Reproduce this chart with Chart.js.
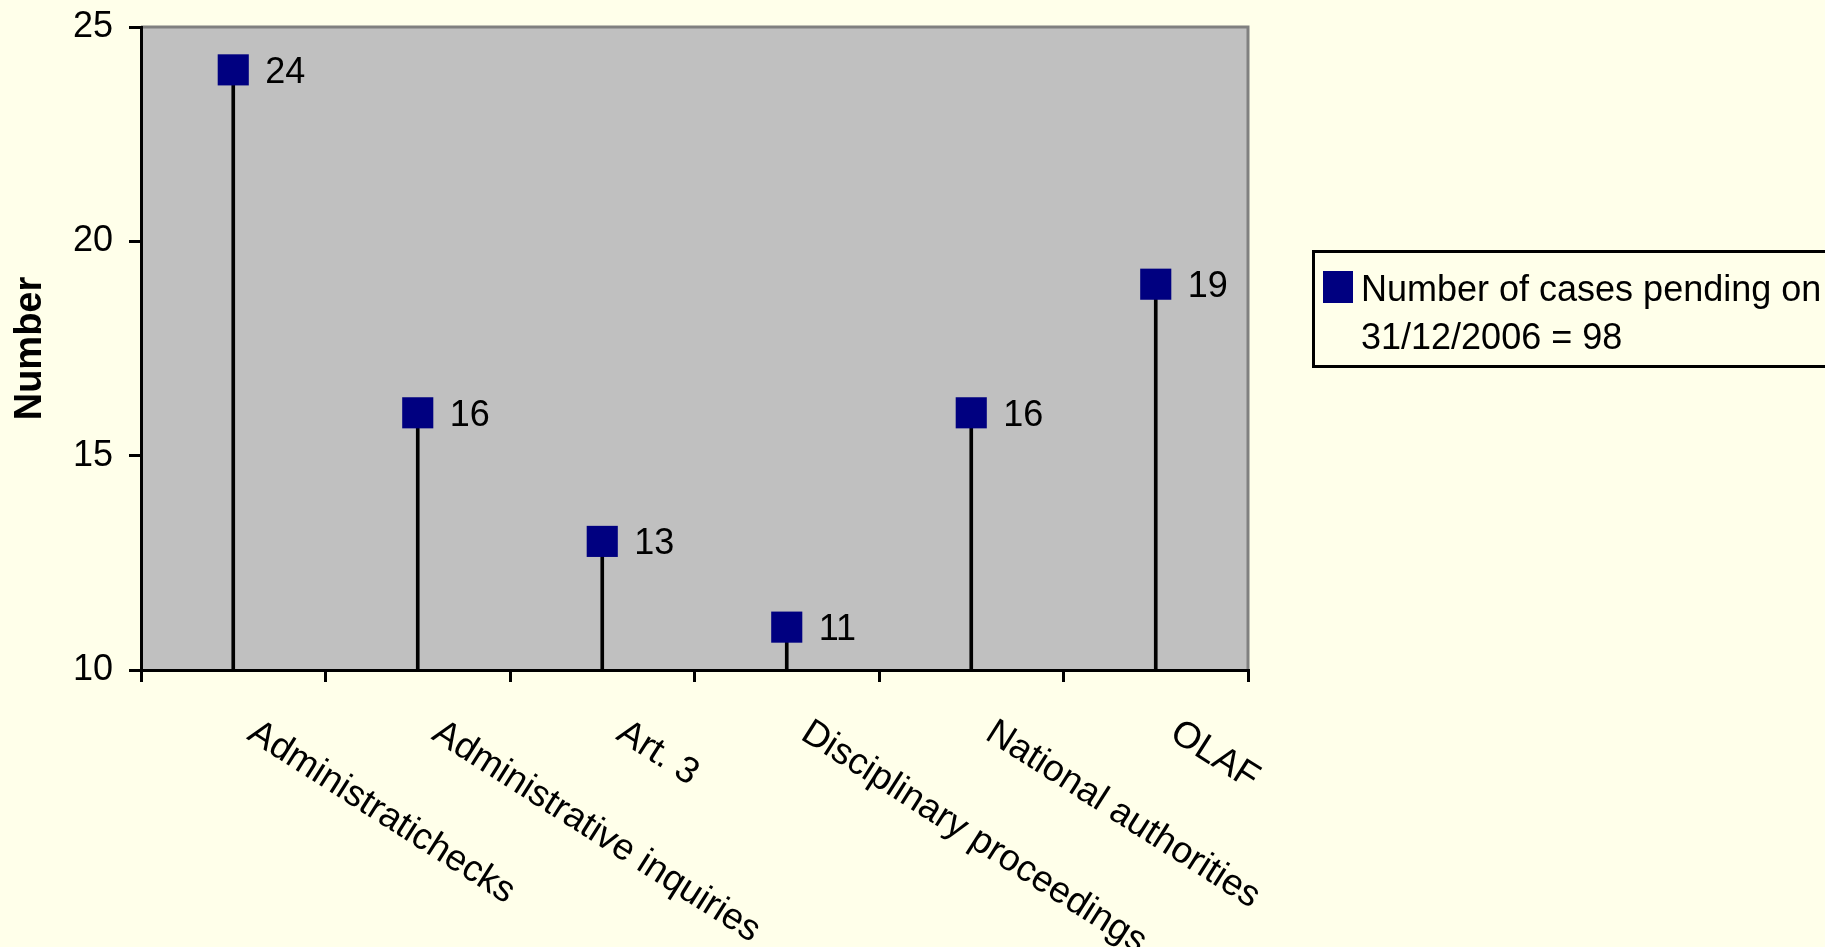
<!DOCTYPE html>
<html>
<head>
<meta charset="utf-8">
<script src="https://cdn.jsdelivr.net/npm/chart.js@4.4.0/dist/chart.umd.min.js"></script>
<style>
  html, body { margin: 0; padding: 0; background: #FFFFEA; }
  canvas { display: block; }
</style>
</head>
<body>
<canvas id="chart" width="1825" height="947"></canvas>
<script>
// Cases pending by category
const categories = [
  'Administratichecks',
  'Administrative inquiries',
  'Art. 3',
  'Disciplinary proceedings',
  'National authorities',
  'OLAF'
];
const pendingCases = [24, 16, 13, 11, 16, 19];
const yTickValues = [10, 15, 20, 25];
const seriesLabel = ['Number of cases pending on', '31/12/2006 = 98'];
const yAxisTitle = 'Number';

const FONT = '"Liberation Sans", Arial, sans-serif';
const PAGE_BG = '#FFFFEA';
const PLOT_BG = '#C0C0C0';
const MARKER = '#000080';

const frame = {
  id: 'frame',
  beforeDraw(chart) {
    const { ctx, chartArea: a } = chart;
    ctx.save();
    ctx.fillStyle = PAGE_BG;
    ctx.fillRect(0, 0, chart.width, chart.height);
    ctx.fillStyle = PLOT_BG;
    ctx.fillRect(a.left, a.top, a.right - a.left, a.bottom - a.top);
    // grey top and right edges of the plot area
    ctx.strokeStyle = '#808080';
    ctx.lineWidth = 3;
    ctx.beginPath();
    ctx.moveTo(a.left, a.top);
    ctx.lineTo(a.right, a.top);
    ctx.lineTo(a.right, a.bottom);
    ctx.stroke();
    ctx.restore();
  },
  afterDraw(chart) {
    const { ctx } = chart;
    const xScale = chart.scales.x;
    ctx.save();

    // value labels beside the markers
    const meta = chart.getDatasetMeta(1);
    ctx.fillStyle = '#000';
    ctx.font = '36px ' + FONT;
    ctx.textAlign = 'left';
    ctx.textBaseline = 'alphabetic';
    meta.data.forEach((pt, i) => {
      ctx.fillText(String(pendingCases[i]), pt.x + 32, pt.y + 13);
    });

    // slanted category labels
    const angle = 32.5 * Math.PI / 180;
    ctx.font = '37px ' + FONT;
    ctx.textBaseline = 'top';
    categories.forEach((c, i) => {
      const x = xScale.getPixelForValue(i) + 28;
      const y = xScale.top + 44;
      ctx.save();
      ctx.translate(x, y);
      ctx.rotate(angle);
      ctx.fillText(c, 0, 0);
      ctx.restore();
    });

    // legend box
    ctx.font = '36px ' + FONT;
    ctx.fillStyle = PAGE_BG;
    ctx.fillRect(1313, 251, 600, 115);
    ctx.strokeStyle = '#000';
    ctx.lineWidth = 3;
    ctx.strokeRect(1313.5, 251.5, 600, 115);
    ctx.fillStyle = MARKER;
    ctx.fillRect(1323, 271, 30, 32);
    ctx.fillStyle = '#000';
    ctx.textBaseline = 'alphabetic';
    ctx.fillText(seriesLabel[0], 1361, 301);
    ctx.fillText(seriesLabel[1], 1361, 349);

    ctx.restore();
  }
};

new Chart(document.getElementById('chart'), {
  type: 'bar',
  data: {
    labels: categories,
    datasets: [
      {
        label: 'stems',
        data: pendingCases,
        backgroundColor: '#000',
        barThickness: 3,
        order: 1
      },
      {
        type: 'line',
        label: seriesLabel.join(' '),
        data: pendingCases,
        showLine: false,
        pointStyle: 'rect',
        pointRadius: 22,
        pointHoverRadius: 22,
        pointBackgroundColor: MARKER,
        pointBorderWidth: 0,
        borderColor: MARKER,
        order: 0
      }
    ]
  },
  options: {
    responsive: false,
    animation: false,
    events: [],
    layout: { padding: { top: 27, right: 577, bottom: 0, left: 0 } },
    plugins: {
      legend: { display: false },
      tooltip: { enabled: false }
    },
    scales: {
      x: {
        type: 'category',
        offset: true,
        grid: {
          offset: true,
          drawOnChartArea: false,
          drawTicks: true,
          tickLength: 12,
          color: '#000',
          lineWidth: 3
        },
        border: { color: '#000', width: 3 },
        ticks: { display: false },
        afterFit(scale) { scale.height = 277; }
      },
      y: {
        type: 'linear',
        min: yTickValues[0],
        max: yTickValues[yTickValues.length - 1],
        afterBuildTicks(scale) {
          scale.ticks = yTickValues.map(v => ({ value: v }));
        },
        ticks: {
          color: '#000',
          padding: 16,
          font: { family: FONT, size: 36 }
        },
        grid: {
          drawOnChartArea: false,
          drawTicks: true,
          tickLength: 12,
          color: '#000',
          lineWidth: 3
        },
        border: { color: '#000', width: 3 },
        title: {
          display: true,
          text: yAxisTitle,
          color: '#000',
          font: { family: FONT, size: 38, weight: 'bold' },
          padding: { top: 8, bottom: 0 }
        },
        afterFit(scale) {
          scale.width = 141;
          scale.paddingTop = 0;
          scale.paddingBottom = 0;
        }
      }
    }
  },
  plugins: [frame]
});
</script>
</body>
</html>
